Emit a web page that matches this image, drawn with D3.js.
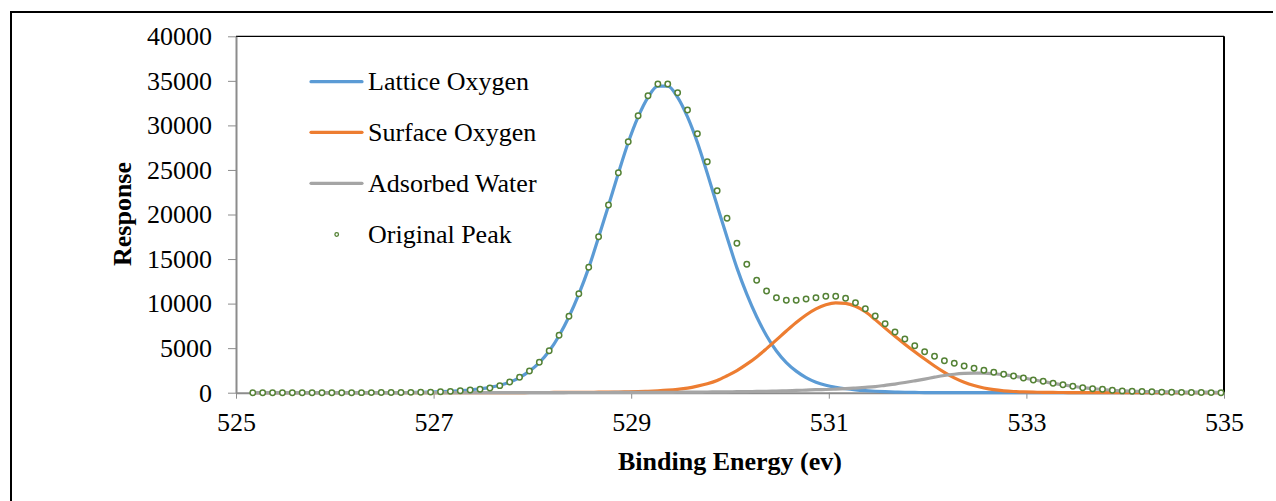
<!DOCTYPE html>
<html>
<head>
<meta charset="utf-8">
<script src="https://cdn.jsdelivr.net/npm/d3@7"></script>
<style>
  html, body { margin: 0; padding: 0; background: #fff; }
  svg { display: block; }
  text { font-family: "Liberation Serif", "Times New Roman", serif; fill: #000; }
</style>
</head>
<body>
<svg id="chart" width="1276" height="501"></svg>
<script>
// ---- data ----
const energy = [
  525.17,525.27,525.37,525.47,525.57,525.67,525.77,525.87,525.97,526.07,
  526.17,526.27,526.37,526.47,526.57,526.67,526.77,526.87,526.97,527.07,
  527.17,527.27,527.37,527.47,527.57,527.67,527.77,527.87,527.97,528.07,
  528.17,528.27,528.37,528.47,528.57,528.67,528.77,528.87,528.97,529.07,
  529.17,529.27,529.37,529.47,529.57,529.67,529.77,529.87,529.97,530.07,
  530.17,530.27,530.37,530.47,530.57,530.67,530.77,530.87,530.97,531.07,
  531.17,531.27,531.37,531.47,531.57,531.67,531.77,531.87,531.97,532.07,
  532.17,532.27,532.37,532.47,532.57,532.67,532.77,532.87,532.97,533.07,
  533.17,533.27,533.37,533.47,533.57,533.67,533.77,533.87,533.97,534.07,
  534.17,534.27,534.37,534.47,534.57,534.67,534.77,534.87,534.97
];
const latticeOxygen = [
  0,0,0,0,0,0,0,0,0,0,
  0,2,4,6,10,18,30,50,75,110,
  160,230,320,440,600,830,1180,1700,2420,3380,
  4680,6400,8520,11060,14010,17440,21000,24620,28070,30950,
  33150,34400,34400,33150,30950,28070,24620,21000,17440,14010,
  11060,8520,6400,4680,3380,2420,1700,1180,830,600,
  440,320,230,160,110,75,50,30,18,10,
  6,4,2,0,0,0,0,0,0,0,
  0,0,0,0,0,0,0,0,0,0,
  0,0,0,0,0,0,0,0,0
];
const surfaceOxygen = [
  0,0,0,0,0,0,0,0,0,0,
  0,0,0,0,0,0,0,5,5,5,
  5,5,10,10,10,15,15,15,20,20,
  25,30,35,40,45,55,65,75,95,120,
  160,210,280,380,520,740,1010,1380,1900,2480,
  3200,4020,4950,5925,6925,7880,8725,9405,9873,10088,
  10033,9700,9080,8200,7250,6330,5450,4600,3780,3000,
  2280,1660,1170,800,530,340,215,135,85,55,
  40,30,20,15,10,10,5,5,5,0,
  0,0,0,0,0,0,0,0,0
];
const adsorbedWater = [
  0,0,0,0,0,0,0,0,0,0,
  0,0,0,5,5,5,5,5,5,5,
  10,10,10,10,10,10,10,15,15,15,
  15,15,20,20,20,25,25,30,30,35,
  35,40,45,50,60,70,80,90,100,110,
  125,140,160,185,215,250,290,335,360,400,
  450,520,600,690,830,970,1140,1330,1530,1740,
  1930,2070,2160,2200,2195,2130,2030,1880,1670,1450,
  1250,1050,880,720,570,450,360,270,210,170,
  140,120,110,95,80,70,60,55,50
];
const originalPeak = [
  0,0,0,0,0,0,0,0,0,0,
  0,5,10,15,20,30,40,50,70,100,
  150,220,300,390,530,790,1200,1730,2435,3410,
  4714,6442,8574,11111,14073,17508,21066,24691,28170,31089,
  33333,34646,34646,33670,31728,29068,25926,22671,19574,16768,
  14410,12615,11414,10662,10370,10370,10516,10662,10819,10819,
  10595,10101,9428,8608,7744,6813,6027,5275,4601,4085,
  3591,3300,2997,2738,2514,2290,2065,1874,1650,1425,
  1279,1055,898,718,561,449,381,269,200,170,
  130,100,70,50,40,30,20,10,0
];
const xTickValues = [525, 527, 529, 531, 533, 535];
const yTickValues = [0, 5000, 10000, 15000, 20000, 25000, 30000, 35000, 40000];
const lineSeries = [
  { name: "Lattice Oxygen", values: latticeOxygen, color: "#5B9BD5" },
  { name: "Surface Oxygen", values: surfaceOxygen, color: "#ED7D31" },
  { name: "Adsorbed Water", values: adsorbedWater, color: "#A5A5A5" }
];
const dotSeries = { name: "Original Peak", values: originalPeak, color: "#548235" };

// ---- drawing ----
const svg = d3.select("#chart");
const L = 236, R = 1224, T = 36.3, B = 392.7;
const x = d3.scaleLinear().domain([525, 535]).range([L, R]);
const y = d3.scaleLinear().domain([0, 40000]).range([B, T]);
const axisColor = "#8C8C8C";
const serif = "Liberation Serif, Times New Roman, serif";

// outer frame
svg.append("path")
  .attr("d", `M11,510 L11,12 L1273,12`)
  .attr("fill", "none").attr("stroke", "#000").attr("stroke-width", 2);

// plot border (top and right)
svg.append("line").attr("x1", L).attr("x2", R).attr("y1", T).attr("y2", T)
  .attr("stroke", "#000").attr("stroke-width", 1.3);
svg.append("line").attr("x1", R).attr("x2", R).attr("y1", T).attr("y2", B)
  .attr("stroke", "#000").attr("stroke-width", 2);

// y axis
const yAxis = svg.append("g").attr("transform", `translate(${L},0)`)
  .call(d3.axisLeft(y).tickValues(yTickValues).tickFormat(d3.format("d"))
    .tickSize(8).tickPadding(16).tickSizeOuter(0));
yAxis.attr("font-family", serif).attr("font-size", 26);
yAxis.select(".domain").attr("stroke", axisColor).attr("stroke-width", 2);
yAxis.selectAll(".tick line").attr("stroke", axisColor).attr("stroke-width", 1);
yAxis.selectAll(".tick text").attr("fill", "#000");

// x axis
const xAxis = svg.append("g").attr("transform", `translate(0,${B})`)
  .call(d3.axisBottom(x).tickValues(xTickValues).tickFormat(d3.format("d"))
    .tickSize(6).tickPadding(14).tickSizeOuter(0));
xAxis.attr("font-family", serif).attr("font-size", 26);
xAxis.select(".domain").attr("stroke", axisColor).attr("stroke-width", 2);
xAxis.selectAll(".tick line").attr("stroke", axisColor).attr("stroke-width", 1);
xAxis.selectAll(".tick text").attr("fill", "#000");

// lines
const line = d3.line()
  .x((d, i) => x(energy[i]))
  .y(d => y(d))
  .curve(d3.curveMonotoneX);
lineSeries.forEach(s => {
  svg.append("path")
    .datum(s.values)
    .attr("d", line)
    .attr("fill", "none")
    .attr("stroke", s.color)
    .attr("stroke-width", 3.2)
    .attr("stroke-linejoin", "round")
    .attr("stroke-linecap", "round");
});

// dots
svg.append("g").selectAll("circle")
  .data(dotSeries.values)
  .join("circle")
  .attr("cx", (d, i) => x(energy[i]))
  .attr("cy", d => y(d))
  .attr("r", 2.7)
  .attr("fill", "#fff")
  .attr("stroke", dotSeries.color)
  .attr("stroke-width", 1.5);

// legend
const legendY = [81.7, 132.3, 183.3, 234.5];
lineSeries.forEach((s, i) => {
  svg.append("line")
    .attr("x1", 311).attr("x2", 362)
    .attr("y1", legendY[i]).attr("y2", legendY[i])
    .attr("stroke", s.color).attr("stroke-width", 3.2).attr("stroke-linecap", "round");
  svg.append("text").attr("x", 368).attr("y", legendY[i] + 8.5)
    .attr("font-size", 26).text(s.name);
});
svg.append("circle").attr("cx", 336.7).attr("cy", legendY[3]).attr("r", 1.8)
  .attr("fill", "#fff").attr("stroke", dotSeries.color).attr("stroke-width", 1.3);
svg.append("text").attr("x", 368).attr("y", legendY[3] + 8.5)
  .attr("font-size", 26).text(dotSeries.name);

// axis titles
svg.append("text").attr("x", 730).attr("y", 470)
  .attr("text-anchor", "middle").attr("font-size", 26).attr("font-weight", "bold")
  .text("Binding Energy (ev)");
svg.append("text")
  .attr("transform", "translate(131,214) rotate(-90)")
  .attr("text-anchor", "middle").attr("font-size", 26).attr("font-weight", "bold")
  .text("Response");
</script>
</body>
</html>
